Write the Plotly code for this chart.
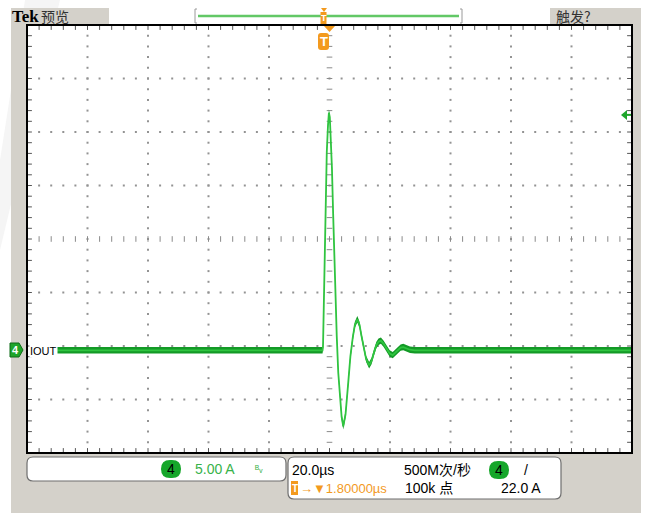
import numpy as np
import plotly.graph_objects as go

W, H = 653, 513

time_us = [-90.0, -0.5, -0.35, 0.0, 0.3, 0.6, 0.9, 1.3, 1.6, 1.9, 2.2, 2.6, 3.0, 3.4, 3.8,
           4.2, 4.7, 5.2, 5.8, 6.35, 7.1, 8.0, 8.7, 9.5, 10.2, 11.0, 11.7, 12.4, 13.2,
           13.9, 14.9, 15.7, 16.5, 17.3, 18.0, 18.8, 19.7, 20.7, 21.7, 22.7, 23.6,
           24.5, 25.3, 26.2, 27.3, 28.4, 30.0, 101.8]
current_A = [0.0, 0.0, 0.3, 5.6, 12.5, 16.0, 18.5, 21.0, 22.2, 21.8, 20.3, 17.1, 12.8, 8.5, 4.5,
             1.3, -2.1, -4.3, -6.2, -7.1, -6.0, -3.0, -0.6, 1.2, 2.4, 2.9, 2.4, 1.3, 0.0,
             -0.8, -1.4, -1.0, -0.2, 0.5, 0.8, 0.9, 0.6, 0.1, -0.3, -0.45, -0.2,
             0.05, 0.25, 0.3, 0.2, 0.05, 0.0, 0.0]

trigger_level_A = 22.0
time_per_div_us = 20.0
amps_per_div = 5.0
h_position_us = 1.8
screen_center_A = 10.4
n_hdiv, n_vdiv = 10, 8

readout_scale = "5.00 A"
readout_time = "20.0µs"
readout_rate = "500M次/秒"
readout_pos = "→▼1.80000µs"
readout_points = "100k 点"
readout_trig = "22.0 A"

x0 = h_position_us - time_per_div_us * n_hdiv / 2
x1 = h_position_us + time_per_div_us * n_hdiv / 2
y0 = screen_center_A - amps_per_div * n_vdiv / 2
y1 = screen_center_A + amps_per_div * n_vdiv / 2


def px(x):
    return x / W


def py(y):
    return 1 - y / H


def rrect(xa, ya, xb, yb, r):
    return (f"M {px(xa + r)},{py(ya)} L {px(xb - r)},{py(ya)} Q {px(xb)},{py(ya)} {px(xb)},{py(ya + r)} "
            f"L {px(xb)},{py(yb - r)} Q {px(xb)},{py(yb)} {px(xb - r)},{py(yb)} "
            f"L {px(xa + r)},{py(yb)} Q {px(xa)},{py(yb)} {px(xa)},{py(yb - r)} "
            f"L {px(xa)},{py(ya + r)} Q {px(xa)},{py(ya)} {px(xa + r)},{py(ya)} Z")


fig = go.Figure()

# ---------------- graticule ----------------
minor_y = y0 + np.arange(1, n_vdiv * 5) * amps_per_div / 5
minor_x = x0 + np.arange(1, n_hdiv * 5) * time_per_div_us / 5
dx, dy = [], []
for k in range(1, n_hdiv):
    if k == n_hdiv // 2:
        continue
    xv = x0 + k * time_per_div_us
    dx += [xv] * len(minor_y)
    dy += list(minor_y)
for k in range(1, n_vdiv):
    if k == n_vdiv // 2:
        continue
    yv = y0 + k * amps_per_div
    dx += list(minor_x)
    dy += [yv] * len(minor_x)
fig.add_trace(go.Scatter(x=dx, y=dy, mode="markers", hoverinfo="skip",
                         marker=dict(symbol="square", size=2, color="#939393", line=dict(width=0))))

cx = x0 + n_hdiv / 2 * time_per_div_us
cy = y0 + n_vdiv / 2 * amps_per_div
fig.add_trace(go.Scatter(x=[cx] * len(minor_y), y=minor_y, mode="markers", hoverinfo="skip",
                         marker=dict(symbol="line-ew", size=4, line=dict(color="#8a8a8a", width=1))))
fig.add_trace(go.Scatter(x=minor_x, y=[cy] * len(minor_x), mode="markers", hoverinfo="skip",
                         marker=dict(symbol="line-ns", size=4, line=dict(color="#8a8a8a", width=1))))
# border ticks
fig.add_trace(go.Scatter(x=list(minor_x) * 2, y=[y0] * len(minor_x) + [y1] * len(minor_x),
                         mode="markers", hoverinfo="skip",
                         marker=dict(symbol="line-ns", size=7, line=dict(color="#555555", width=1))))
fig.add_trace(go.Scatter(x=[x0] * len(minor_y) + [x1] * len(minor_y), y=list(minor_y) * 2,
                         mode="markers", hoverinfo="skip",
                         marker=dict(symbol="line-ew", size=7, line=dict(color="#555555", width=1))))

# ---------------- waveform ----------------
band = 0.3
fig.add_trace(go.Scatter(x=time_us, y=[a - band for a in current_A], mode="lines",
                         line=dict(width=0, color="#129c25"), hoverinfo="skip"))
fig.add_trace(go.Scatter(x=time_us, y=[a + band for a in current_A], mode="lines", fill="tonexty",
                         fillcolor="#139a26", line=dict(width=0, color="#129c25"), hoverinfo="skip"))
fig.add_trace(go.Scatter(x=time_us, y=current_A, mode="lines",
                         line=dict(width=1.8, color="#30c440"), hoverinfo="skip"))

# ---------------- frame & panels ----------------
shapes = []
# faint diagonal sheen in the white margin
shapes.append(dict(type="path", xref="paper", yref="paper",
                   path=f"M {px(0)},{py(160)} L {px(0)},{py(250)} L {px(60)},{py(0)} L {px(25)},{py(0)} Z",
                   fillcolor="#f5f5f5", line=dict(width=0), layer="below"))
shapes.append(dict(type="rect", xref="paper", yref="paper", x0=px(11), x1=px(641), y0=py(513), y1=py(8),
                   fillcolor="#d4d1ca", line=dict(width=0), layer="below"))
shapes.append(dict(type="rect", xref="paper", yref="paper", x0=px(109), x1=px(550), y0=py(24), y1=py(8),
                   fillcolor="white", line=dict(width=0), layer="below"))
shapes.append(dict(type="rect", xref="paper", yref="paper", x0=px(27), x1=px(632), y0=py(453), y1=py(25),
                   fillcolor="white", line=dict(width=0), layer="below"))
shapes.append(dict(type="rect", xref="x domain", yref="y domain", x0=0, x1=1, y0=0, y1=1,
                   line=dict(color="black", width=2), layer="above"))
# record view bracket and line
for xb, d in [(195, 1), (462, -1)]:
    shapes.append(dict(type="path", xref="paper", yref="paper",
                       path=f"M {px(xb + 2 * d)},{py(9)} L {px(xb)},{py(9)} L {px(xb)},{py(23)} L {px(xb + 2 * d)},{py(23)}",
                       line=dict(color="#9a9a9a", width=1)))
shapes.append(dict(type="line", xref="paper", yref="paper", x0=px(198), x1=px(459), y0=py(16), y1=py(16),
                   line=dict(color="#62c866", width=2.5)))
# orange markers on top bar
shapes.append(dict(type="rect", xref="paper", yref="paper", x0=px(320.5), x1=px(326.5), y0=py(24), y1=py(12),
                   fillcolor="#f39a1e", line=dict(width=0)))
shapes.append(dict(type="path", xref="paper", yref="paper",
                   path=f"M {px(321)},{py(8)} L {px(327)},{py(8)} L {px(324)},{py(12)} Z",
                   fillcolor="#f39a1e", line=dict(width=0)))
# expansion point triangle and trigger T below top border
shapes.append(dict(type="path", xref="paper", yref="paper",
                   path=f"M {px(324)},{py(26)} L {px(335)},{py(26)} L {px(329.5)},{py(32)} Z",
                   fillcolor="#f39a1e", line=dict(width=0)))
shapes.append(dict(type="path", xref="paper", yref="paper", path=rrect(318, 33, 329, 50, 3),
                   fillcolor="#f39a1e", line=dict(width=0)))
# channel 4 ground marker (left)
shapes.append(dict(type="path", xref="paper", yref="paper",
                   path=f"M {px(10)},{py(343)} L {px(19)},{py(343)} L {px(23)},{py(350)} L {px(19)},{py(357)} L {px(10)},{py(357)} Z",
                   fillcolor="#1ea52a", line=dict(color="#0d6b16", width=1)))
# trigger level arrow (right)
ty_px = 25 + (y1 - trigger_level_A) / (y1 - y0) * 428
shapes.append(dict(type="path", xref="paper", yref="paper",
                   path=f"M {px(621)},{py(ty_px)} L {px(627)},{py(ty_px - 5)} L {px(627)},{py(ty_px + 5)} Z",
                   fillcolor="#1ea52a", line=dict(width=0)))
shapes.append(dict(type="line", xref="paper", yref="paper", x0=px(625), x1=px(631), y0=py(ty_px), y1=py(ty_px),
                   line=dict(color="#1ea52a", width=2)))
# bottom readout boxes
shapes.append(dict(type="path", xref="paper", yref="paper", path=rrect(27, 457, 286, 481, 6),
                   fillcolor="white", line=dict(color="#6e6e6e", width=1.2)))
shapes.append(dict(type="path", xref="paper", yref="paper", path=rrect(288, 457, 561, 499, 6),
                   fillcolor="white", line=dict(color="#6e6e6e", width=1.2)))
shapes.append(dict(type="path", xref="paper", yref="paper", path=rrect(161, 460, 181, 478, 9),
                   fillcolor="#16a62a", line=dict(width=0)))
shapes.append(dict(type="path", xref="paper", yref="paper", path=rrect(489, 461, 509, 479, 9),
                   fillcolor="#16a62a", line=dict(width=0)))
shapes.append(dict(type="rect", xref="paper", yref="paper", x0=px(291), x1=px(298), y0=py(495), y1=py(481),
                   fillcolor="#f39a1e", line=dict(width=0)))

F = "Liberation Sans"
CJK = "Noto Sans CJK SC"
ann = []


def text(x, y, s, size=14, color="black", family=F, anchor="left", bold=False, bg=None):
    if bold:
        s = f"<b>{s}</b>"
    a = dict(x=px(x), y=py(y), xref="paper", yref="paper", text=s, showarrow=False,
             xanchor=anchor, yanchor="middle", font=dict(size=size, color=color, family=family))
    if bg:
        a["bgcolor"] = bg
        a["borderpad"] = 0
    ann.append(a)


text(10, 16, "Tek", 17, "black", "Liberation Serif", bold=True)
text(39, 16, "预览", 14, "#333333", CJK)
text(554, 16, "触发?", 14, "#333333", CJK)
text(323.5, 18, "T", 9, "white", F, "center", bold=True)
text(323.5, 41.5, "T", 13, "white", F, "center", bold=True)
text(15.5, 350, "4", 11, "white", F, "center", bold=True)
text(29, 351, "IOUT", 11, "black", F, bg="white")
text(171, 469, "4", 14, "black", F, "center")
text(193, 469, readout_scale, 14, "#38b24a", F)
text(253, 468, "ᴮᵥ", 10, "#38b24a", F)
text(290, 470, readout_time, 14, "black", F)
text(402, 470, readout_rate, 14, "black", "Liberation Sans, Noto Sans CJK SC")
text(499, 470, "4", 14, "black", F, "center")
text(522, 470, "/", 14, "black", F)
text(294.5, 488, "T", 10, "white", F, "center", bold=True)
text(298, 488, readout_pos, 13, "#f39a1e", "Liberation Sans, Noto Sans CJK SC")
text(403, 488, readout_points, 14, "black", "Liberation Sans, Noto Sans CJK SC")
text(499, 488, readout_trig, 14, "black", F)

fig.update_layout(
    width=W, height=H, margin=dict(l=0, r=0, t=0, b=0),
    paper_bgcolor="white", plot_bgcolor="rgba(0,0,0,0)",
    showlegend=False, shapes=shapes, annotations=ann,
    xaxis=dict(domain=[px(27), px(632)], range=[x0, x1], visible=False, fixedrange=True),
    yaxis=dict(domain=[py(453), py(25)], range=[y0, y1], visible=False, fixedrange=True),
)
fig.write_html("out.html", config={"displayModeBar": False},
               post_script="document.body.style.margin='0';document.body.style.overflow='hidden';")
